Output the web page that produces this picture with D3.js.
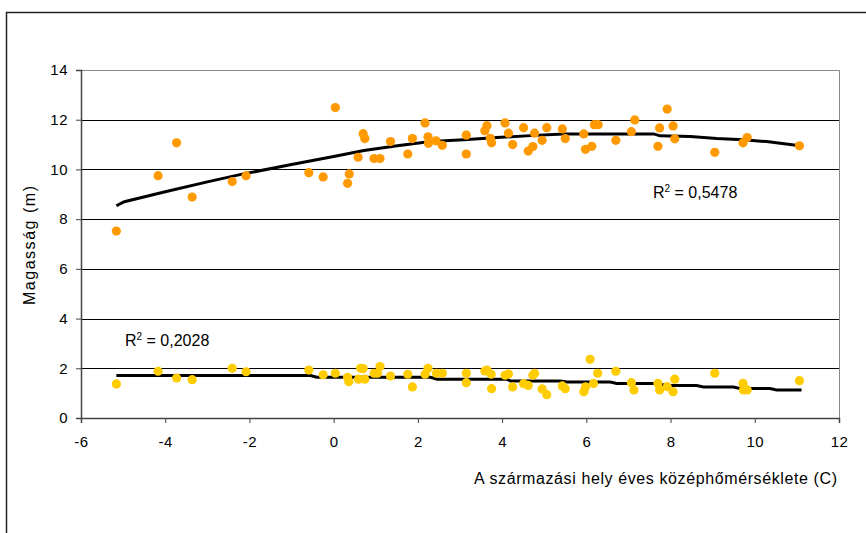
<!DOCTYPE html>
<html>
  <head>
    <meta charset="utf-8">
    <title>Magasság</title>
    <script type="text/javascript" src="https://cdn.jsdelivr.net/npm/d3@7"></script>
    <style>
      body { margin: 0; background: #fff; }
      text { font-family: "Liberation Sans", Arial, sans-serif; fill: #000; }
    </style>
  </head>
  <body>
    <script type="text/javascript">
      // upper group (orange)
      var xHigh = [-5.16, -4.17, -3.73, -3.36, -2.41, -2.08, -0.59, -0.25, 0.04, 0.37,
                   0.33, 0.58, 0.70, 0.74, 0.96, 1.10, 1.35, 1.76, 1.87, 2.17,
                   2.24, 2.25, 2.43, 2.58, 3.15, 3.15, 3.59, 3.64, 3.72, 3.75,
                   4.07, 4.15, 4.25, 4.51, 4.62, 4.73, 4.77, 4.95, 5.06, 5.43,
                   5.50, 5.94, 5.98, 6.13, 6.19, 6.28, 6.70, 7.07, 7.15, 7.70,
                   7.74, 7.92, 8.06, 8.10, 9.05, 9.72, 9.82, 11.06];
      var yHigh = [7.52, 9.75, 11.07, 8.89, 9.51, 9.75, 9.87, 9.70, 12.49, 9.82,
                   9.44, 10.49, 11.44, 11.24, 10.44, 10.44, 11.12, 10.62, 11.24, 11.87,
                   11.31, 11.05, 11.15, 10.97, 11.38, 10.62, 11.56, 11.76, 11.25, 11.07,
                   11.87, 11.46, 11.00, 11.68, 10.74, 10.92, 11.46, 11.17, 11.68, 11.63,
                   11.24, 11.43, 10.81, 10.93, 11.80, 11.80, 11.17, 11.52, 11.99, 10.93,
                   11.67, 12.43, 11.75, 11.23, 10.69, 11.07, 11.28, 10.95];

      // lower group (yellow)
      var xLow = [-5.16, -4.17, -3.73, -3.36, -2.41, -2.08, -0.59, -0.25, 0.04, 0.33,
                  0.36, 0.59, 0.64, 0.70, 0.74, 0.96, 1.04, 1.10, 1.35, 1.76,
                  1.87, 2.17, 2.24, 2.44, 2.58, 3.15, 3.15, 3.59, 3.64, 3.74,
                  3.75, 4.07, 4.15, 4.25, 4.51, 4.62, 4.73, 4.77, 4.95, 5.06,
                  5.43, 5.50, 5.94, 5.98, 6.09, 6.17, 6.27, 6.70, 7.07, 7.13,
                  7.70, 7.74, 7.92, 8.06, 8.10, 9.05, 9.72, 9.73, 9.82, 11.06];
      var yLow = [1.37, 1.88, 1.61, 1.54, 2.00, 1.86, 1.93, 1.74, 1.80, 1.64,
                  1.46, 1.56, 2.00, 1.99, 1.56, 1.80, 1.80, 2.07, 1.69, 1.76,
                  1.25, 1.76, 2.00, 1.80, 1.80, 1.80, 1.42, 1.89, 1.93, 1.76,
                  1.18, 1.72, 1.77, 1.25, 1.38, 1.31, 1.72, 1.80, 1.17, 0.94,
                  1.29, 1.18, 1.06, 1.25, 2.36, 1.39, 1.80, 1.88, 1.42, 1.13,
                  1.39, 1.13, 1.26, 1.06, 1.56, 1.80, 1.39, 1.13, 1.13, 1.50];

      // trend lines
      var trendHighX = [-5.16, -4.97, -4.0, -3.0, -2.2, -1.0, 0.0, 0.72, 1.51, 2.30,
                        3.09, 3.88, 4.67, 5.46, 6.2, 7.04, 7.60, 7.75, 8.47, 9.10,
                        9.73, 10.28, 11.07];
      var trendHighY = [8.54, 8.70, 9.10, 9.50, 9.80, 10.20, 10.52, 10.76, 10.95, 11.12,
                        11.19, 11.28, 11.36, 11.43, 11.43, 11.43, 11.43, 11.35, 11.32, 11.24,
                        11.19, 11.12, 10.95];
      var trendLowX = [-5.16, -0.55, -0.4, 2.3, 2.46, 4.1, 4.2, 5.38, 5.54, 6.57,
                       6.72, 7.68, 7.91, 8.62, 8.78, 9.49, 9.65, 10.36, 10.52, 11.11];
      var trendLowY = [1.71, 1.71, 1.64, 1.64, 1.56, 1.56, 1.49, 1.49, 1.45, 1.45,
                       1.39, 1.39, 1.31, 1.31, 1.25, 1.25, 1.19, 1.19, 1.13, 1.13];

      var xTicks = [-6, -4, -2, 0, 2, 4, 6, 8, 10, 12];
      var yTicks = [0, 2, 4, 6, 8, 10, 12, 14];

      var w = 866;
      var h = 533;

      var svg = d3.select("body").append("svg")
                  .attr("width", w)
                  .attr("height", h);

      // outer chart frame
      svg.append("rect")
         .attr("x", 6.5).attr("y", 12.5)
         .attr("width", 900).attr("height", 600)
         .attr("fill", "none")
         .attr("stroke", "#222")
         .attr("stroke-width", 1.5);

      var x = d3.scaleLinear().domain([-6, 12]).range([81, 839]);
      var y = d3.scaleLinear().domain([0, 14]).range([418, 70]);

      // gridlines
      svg.selectAll(".grid")
         .data(yTicks.slice(1, -1))
         .enter()
         .append("line")
         .attr("x1", x(-6)).attr("x2", x(12))
         .attr("y1", function(d) { return Math.round(y(d)) + 0.5; })
         .attr("y2", function(d) { return Math.round(y(d)) + 0.5; })
         .attr("stroke", "#000")
         .attr("stroke-width", 1);

      // plot area border (top, right)
      svg.append("path")
         .attr("d", "M" + x(-6) + "," + (y(14) + 0.5) + "H" + (x(12) + 0.5) + "V" + y(0))
         .attr("fill", "none")
         .attr("stroke", "#888")
         .attr("stroke-width", 1);

      // axes (plain hyphen for negatives, like the original)
      var fmt = function(d) { return String(d); };
      var xAxis = d3.axisBottom(x).tickValues(xTicks).tickFormat(fmt)
                    .tickSize(5).tickPadding(13);
      var yAxis = d3.axisLeft(y).tickValues(yTicks).tickFormat(fmt)
                    .tickSize(5).tickPadding(8);

      var gx = svg.append("g")
                  .attr("transform", "translate(0," + y(0) + ")")
                  .call(xAxis);
      var gy = svg.append("g")
                  .attr("transform", "translate(" + x(-6) + ",0)")
                  .call(yAxis);

      [gx, gy].forEach(function(g) {
        g.select(".domain").attr("stroke", "#444").attr("stroke-width", 1.5);
        g.selectAll(".tick line").attr("stroke", "#444");
        g.selectAll(".tick text")
         .attr("font-family", "Liberation Sans, Arial, sans-serif")
         .attr("font-size", 15)
         .attr("letter-spacing", 0.5)
         .attr("fill", "#000");
      });

      // trend lines
      var line = d3.line()
                   .x(function(d) { return x(d[0]); })
                   .y(function(d) { return y(d[1]); });

      svg.append("path")
         .datum(d3.zip(trendHighX, trendHighY))
         .attr("d", line)
         .attr("fill", "none")
         .attr("stroke", "#000")
         .attr("stroke-width", 3);

      svg.append("path")
         .datum(d3.zip(trendLowX, trendLowY))
         .attr("d", line)
         .attr("fill", "none")
         .attr("stroke", "#000")
         .attr("stroke-width", 3);

      // points
      svg.selectAll(".high")
         .data(d3.zip(xHigh, yHigh))
         .enter()
         .append("circle")
         .attr("cx", function(d) { return x(d[0]); })
         .attr("cy", function(d) { return y(d[1]); })
         .attr("r", 4.6)
         .attr("fill", "#ff9900");

      svg.selectAll(".low")
         .data(d3.zip(xLow, yLow))
         .enter()
         .append("circle")
         .attr("cx", function(d) { return x(d[0]); })
         .attr("cy", function(d) { return y(d[1]); })
         .attr("r", 4.6)
         .attr("fill", "#ffcc00");

      // R squared labels
      function rLabel(px, py, val) {
        var t = svg.append("text")
                   .attr("x", px).attr("y", py)
                   .attr("font-size", 16);
        t.append("tspan").text("R");
        t.append("tspan").attr("font-size", 10).attr("dy", -6).text("2");
        t.append("tspan").attr("dy", 6).text(" = " + val);
      }
      rLabel(653, 198, "0,5478");
      rLabel(125, 346, "0,2028");

      // axis titles
      svg.append("text")
         .attr("x", 474).attr("y", 484)
         .attr("font-size", 16)
         .attr("textLength", 363)
         .attr("lengthAdjust", "spacing")
         .text("A származási hely éves középhőmérséklete (C)");

      svg.append("text")
         .attr("transform", "translate(35,305) rotate(-90)")
         .attr("font-size", 16)
         .attr("textLength", 119)
         .attr("lengthAdjust", "spacing")
         .text("Magasság (m)");
    </script>
  </body>
</html>
